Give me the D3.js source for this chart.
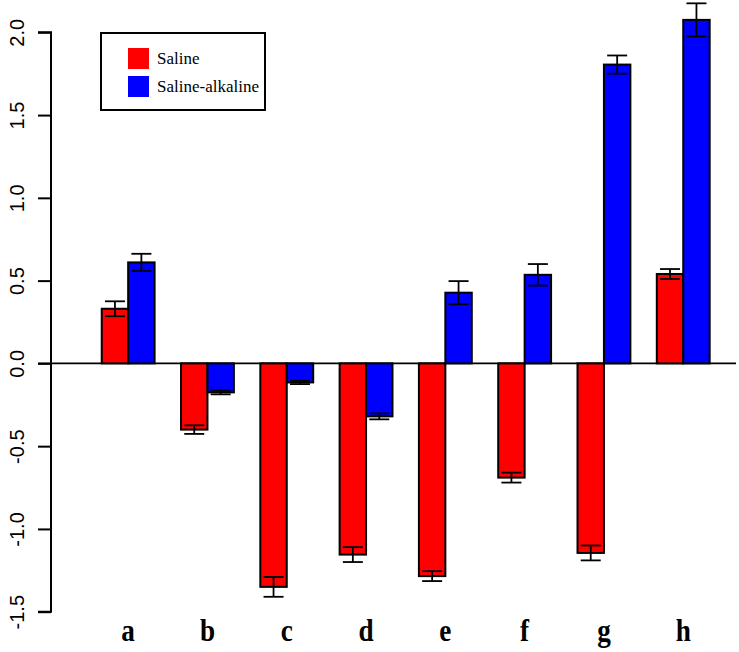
<!DOCTYPE html>
<html>
<head>
<meta charset="utf-8">
<script src="https://cdn.jsdelivr.net/npm/d3@7"></script>
<style>
  body { margin: 0; background: #fff; }
  svg { display: block; }
</style>
</head>
<body>
<svg id="chart" width="739" height="652"></svg>
<script>
// Chart data
const categories = ['a', 'b', 'c', 'd', 'e', 'f', 'g', 'h'];
const seriesNames = ['Saline', 'Saline-alkaline'];
const seriesColors = ['#ff0000', '#0000ff'];
const salineValues = [0.33, -0.40, -1.35, -1.155, -1.285, -0.69, -1.145, 0.54];
const salineErrors = [0.045, 0.026, 0.06, 0.045, 0.03, 0.03, 0.045, 0.03];
const alkalineValues = [0.61, -0.175, -0.115, -0.32, 0.427, 0.535, 1.805, 2.075];
const alkalineErrors = [0.052, 0.012, 0.01, 0.018, 0.07, 0.065, 0.055, 0.1];
const yTicks = [-1.5, -1.0, -0.5, 0.0, 0.5, 1.0, 1.5, 2.0];

const svg = d3.select('#chart');

// Scales
const y = d3.scaleLinear().domain([-1.5, 2.0]).range([611.7, 32.3]);
const x0 = d3.scaleBand()
    .domain(categories)
    .range([75.3, 736.1])
    .paddingInner(1 / 3)
    .paddingOuter(1 / 3);
const x1 = d3.scaleBand()
    .domain(seriesNames)
    .range([0, x0.bandwidth()]);

// Build rows for each bar
const rows = [];
categories.forEach((c, i) => {
    rows.push({ cat: c, s: seriesNames[0], v: salineValues[i], e: salineErrors[i], color: seriesColors[0] });
    rows.push({ cat: c, s: seriesNames[1], v: alkalineValues[i], e: alkalineErrors[i], color: seriesColors[1] });
});

// Zero line
svg.append('line')
    .attr('x1', 38).attr('x2', 736)
    .attr('y1', y(0)).attr('y2', y(0))
    .attr('stroke', '#000')
    .attr('stroke-width', 1.6);

// Bars
svg.append('g')
    .selectAll('rect')
    .data(rows)
    .enter().append('rect')
    .attr('x', d => x0(d.cat) + x1(d.s))
    .attr('width', x1.bandwidth())
    .attr('y', d => y(Math.max(0, d.v)))
    .attr('height', d => Math.abs(y(d.v) - y(0)))
    .attr('fill', d => d.color)
    .attr('stroke', '#000')
    .attr('stroke-width', 2);

// Error bars
const capHalf = 10;
const err = svg.append('g')
    .attr('stroke', '#000')
    .attr('stroke-width', 1.8);
rows.forEach(d => {
    const cx = x0(d.cat) + x1(d.s) + x1.bandwidth() / 2;
    err.append('line')
        .attr('x1', cx).attr('x2', cx)
        .attr('y1', y(d.v - d.e)).attr('y2', y(d.v + d.e));
    [d.v - d.e, d.v + d.e].forEach(t => {
        err.append('line')
            .attr('x1', cx - capHalf).attr('x2', cx + capHalf)
            .attr('y1', y(t)).attr('y2', y(t));
    });
});

// Y axis
const yAxis = svg.append('g')
    .attr('transform', 'translate(51,0)')
    .call(d3.axisLeft(y).tickValues(yTicks).tickSize(13).tickFormat(d3.format('.1f')));
yAxis.select('.domain').attr('stroke-width', 2).attr('d', `M-13,${y(2.0)}H0V${y(-1.5)}H-13`);
yAxis.selectAll('.tick line').attr('stroke-width', 2);
yAxis.selectAll('.tick text')
    .attr('x', null).attr('dy', null)
    .attr('transform', 'translate(-34,0) rotate(-90)')
    .attr('text-anchor', 'middle')
    .attr('dominant-baseline', 'central')
    .style('font-family', 'Liberation Sans, Arial, sans-serif')
    .style('font-size', '20px')
    .attr('fill', '#000')
    .text(d => d3.format('.1f')(d).replace('−', '-'));

// Category labels (slightly condensed, as in the figure)
svg.append('g')
    .selectAll('text')
    .data(categories)
    .enter().append('text')
    .attr('transform', d => `translate(${x0(d) + x0.bandwidth() / 2},641) scale(0.85,1)`)
    .attr('text-anchor', 'middle')
    .style('font-family', 'Liberation Serif, Times New Roman, serif')
    .style('font-weight', 'bold')
    .style('font-size', '32px')
    .text(d => d);

// Legend
const legend = svg.append('g');
legend.append('rect')
    .attr('x', 101).attr('y', 33)
    .attr('width', 164).attr('height', 77)
    .attr('fill', '#fff')
    .attr('stroke', '#000')
    .attr('stroke-width', 2);
seriesNames.forEach((name, i) => {
    legend.append('rect')
        .attr('x', 128).attr('y', 48 + i * 28)
        .attr('width', 21).attr('height', 21)
        .attr('fill', seriesColors[i]);
    legend.append('text')
        .attr('x', 157).attr('y', 64 + i * 28)
        .style('font-family', 'Liberation Serif, Times New Roman, serif')
        .style('font-size', '17px')
        .text(name);
});
</script>
</body>
</html>
